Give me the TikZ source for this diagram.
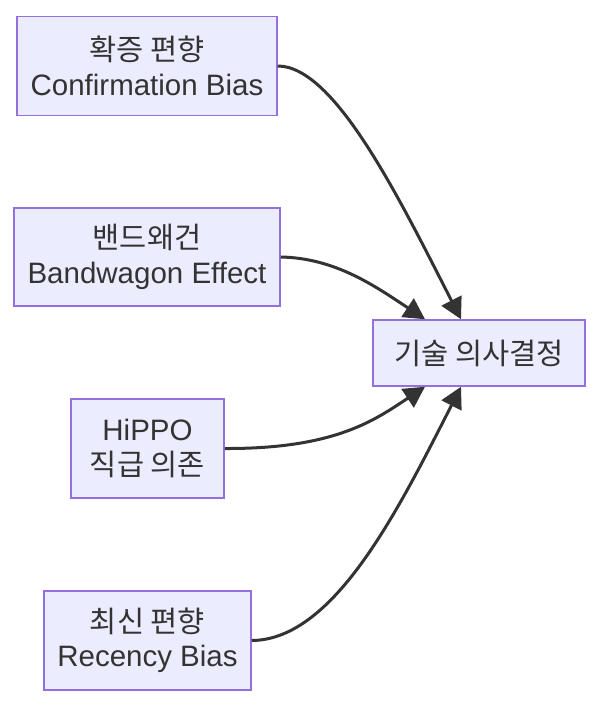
\documentclass[tikz,border=0pt]{standalone}
\usepackage{fontspec}
\setmainfont{Liberation Sans}
\newfontfamily\kr{Noto Sans CJK KR}
\usetikzlibrary{arrows.meta}
\definecolor{boxfill}{HTML}{ECECFF}
\definecolor{boxline}{HTML}{9370DB}
\definecolor{ink}{HTML}{333333}
\begin{document}
\begin{tikzpicture}[x=1pt,y=-1pt,
  box/.style={draw=boxline,fill=boxfill,line width=1.5pt,inner sep=0pt,
    text=ink,align=center,font=\fontsize{29.5}{34.5}\selectfont},
  link/.style={draw=ink,line width=3pt,-{Triangle[length=21pt,width=22pt]}}]
\useasboundingbox (0,0) rectangle (600,706);
\node[box,minimum width=260pt,minimum height=99pt] (b1) at (147,66) {{\kr 확증 편향}\\Confirmation Bias};
\node[box,minimum width=266pt,minimum height=98pt] (b2) at (147,257) {{\kr 밴드왜건}\\Bandwagon Effect};
\node[box,minimum width=153pt,minimum height=99pt] (b3) at (147.5,448.5) {HiPPO\\{\kr 직급 의존}};
\node[box,minimum width=207pt,minimum height=99pt] (b4) at (147.5,640.5) {{\kr 최신 편향}\\Recency Bias};
\node[box,minimum width=212pt,minimum height=66pt] (t) at (479,353) {{\kr 기술 의사결정}};
\draw[link] (b1.east) .. controls (335,66) and (400,200) .. ([xshift=-18pt]t.north);
\draw[link] (b2.east) .. controls (335,258) and (375,286) .. ([xshift=-54pt]t.north);
\draw[link] (b3.east) .. controls (335,449) and (375,420) .. ([xshift=-54pt]t.south);
\draw[link] (b4.east) .. controls (335,640) and (400,506) .. ([xshift=-18pt]t.south);
\end{tikzpicture}
\end{document}
